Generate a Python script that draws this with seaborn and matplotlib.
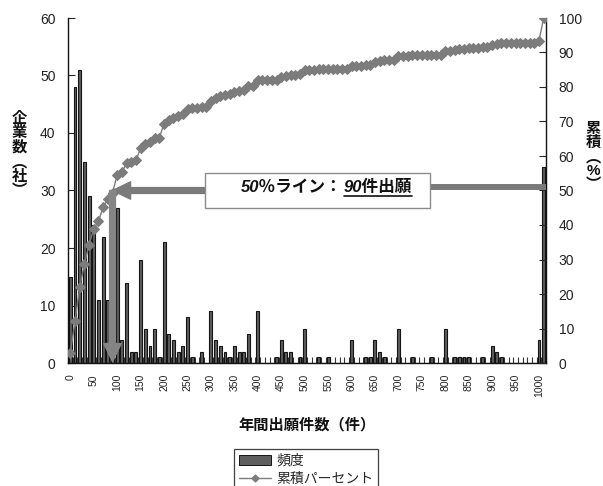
import numpy as np
import pandas as pd
import matplotlib
matplotlib.use("Agg")
import matplotlib.pyplot as plt
import seaborn as sns
from matplotlib.patches import Rectangle, FancyArrowPatch, Patch
from matplotlib.lines import Line2D

# Histogram bins (upper bounds, step 10) plus the overflow class
bin_labels = [str(v) for v in range(0, 1001, 10)] + ["次の級"]

# Number of companies per bin of yearly applications
frequency = [
    15, 48, 51, 35, 29, 24, 11, 22, 11, 10,   # 0-90
    27, 4, 14, 2, 2, 18, 6, 3, 6, 1,          # 100-190
    21, 5, 4, 2, 3, 8, 1, 0, 2, 0,            # 200-290
    9, 4, 3, 2, 1, 3, 2, 2, 5, 0,             # 300-390
    9, 0, 0, 0, 1, 4, 2, 2, 0, 1,             # 400-490
    6, 0, 0, 1, 0, 1, 0, 0, 0, 0,             # 500-590
    4, 0, 0, 1, 1, 4, 2, 1, 0, 0,             # 600-690
    6, 0, 0, 1, 0, 0, 0, 1, 0, 0,             # 700-790
    6, 0, 1, 1, 1, 1, 0, 0, 1, 0,             # 800-890
    3, 2, 1, 0, 0, 0, 0, 0, 0, 0,             # 900-990
    4, 34,                                    # 1000, overflow
]

left_ticks = [0, 10, 20, 30, 40, 50, 60]
right_ticks = [0, 10, 20, 30, 40, 50, 60, 70, 80, 90, 100]

half_level = 50          # the 50 % reference line
half_bin = "90"          # bin where the cumulative share reaches 50 %

freq = np.array(frequency, dtype=float)
cum_pct = np.cumsum(freq) / freq.sum() * 100
pos = np.arange(len(bin_labels))
df = pd.DataFrame({"bin": bin_labels, "freq": freq, "pos": pos, "cum": cum_pct})

sns.set_style("white")
plt.rcParams["font.family"] = ["Liberation Sans", "Noto Sans CJK JP"]
plt.rcParams["axes.unicode_minus"] = False

W, H = 603, 486
fig = plt.figure(figsize=(W / 100, H / 100), dpi=100)
rect = [68 / W, 1 - 363 / H, 478 / W, 345 / H]
ax = fig.add_axes(rect)

sns.barplot(data=df, x="pos", y="freq", ax=ax, order=list(pos), color="#5e5e5e",
            edgecolor="#141414", linewidth=0.8, width=0.62, saturation=1)

n = len(bin_labels)
ax.set_xlim(-0.5, n - 0.5)
ax.set_ylim(0, 60)
ax.set_xlabel("年間出願件数（件）", fontsize=11, fontweight="bold", labelpad=15,
              color="#111111")
ax.set_ylabel("")
ax.set_xticks(pos[:101:5])
ax.set_xticklabels(bin_labels[:101:5], rotation=90, fontsize=7.5, color="#222222")
ax.set_xticks(np.arange(-0.5, n, 1), minor=True)
ax.tick_params(axis="x", which="major", length=0, pad=8)
ax.tick_params(axis="x", which="minor", direction="in", length=4, width=0.8,
               color="#333333", bottom=True)
ax.set_yticks(left_ticks)
ax.set_yticklabels([str(t) for t in left_ticks], fontsize=10, color="#222222")
ax.tick_params(axis="y", direction="in", length=5, width=0.8, pad=9, left=True)
for s in ["left", "bottom", "right"]:
    ax.spines[s].set_visible(True)
    ax.spines[s].set_color("#111111")
    ax.spines[s].set_linewidth(1.0)
ax.spines["top"].set_visible(False)

# Cumulative percentage on its own right-hand scale
ax2 = fig.add_axes(rect, frameon=False)
sns.lineplot(data=df, x="pos", y="cum", ax=ax2, color="#7c7c7c", linewidth=1.0,
             marker="D", markersize=5, markeredgecolor="#7c7c7c", zorder=4)
ax2.set_xlim(-0.5, n - 0.5)
ax2.set_ylim(0, 100)
ax2.xaxis.set_visible(False)
ax2.yaxis.tick_right()
ax2.set_ylabel("")
ax2.set_yticks(right_ticks)
ax2.set_yticklabels([str(t) for t in right_ticks], fontsize=10, color="#222222")
ax2.tick_params(axis="y", direction="in", length=5, width=0.8, pad=9, right=True,
                left=False)

# 50 % annotation
hx = bin_labels.index(half_bin)
box_x0, box_x1 = 28.7, 76.8
box_y0, box_y1 = 44.9, 55.1
arrow_grey = "#7a7a7a"
ax2.add_patch(Rectangle((box_x0, box_y0), box_x1 - box_x0, box_y1 - box_y0,
                        facecolor="white", edgecolor="#8c8c8c", linewidth=1.0,
                        zorder=6))
style = "simple,head_length=1.3,head_width=1.25,tail_width=0.42"
ax2.add_patch(FancyArrowPatch((box_x0, half_level), (hx, half_level),
                              arrowstyle=style, mutation_scale=10,
                              color=arrow_grey, shrinkA=0, shrinkB=0, zorder=5))
ax2.add_patch(FancyArrowPatch((hx, half_level), (hx, 0.4),
                              arrowstyle=style, mutation_scale=10,
                              color="#858585", shrinkA=0, shrinkB=0, zorder=5))
ax2.plot([box_x1, n - 0.5], [half_level + 1, half_level + 1], color=arrow_grey,
         linewidth=4.3, solid_capstyle="butt", zorder=5)

split_x = 58.0
t1 = ax2.text(split_x, half_level + 0.8, "50％ライン：", ha="right", va="center",
              fontsize=12, fontweight="bold", fontstyle="italic",
              color="#111111", zorder=7)
t2 = ax2.text(split_x + 0.3, half_level + 0.8, "90件出願", ha="left", va="center",
              fontsize=12, fontweight="bold", fontstyle="italic",
              color="#111111", zorder=7)

# Axis titles written vertically
fig.text(19 / W, 1 - 155 / H, "企\n業\n数\n︵\n社\n︶", ha="center", va="center",
         fontsize=11, fontweight="bold", linespacing=1.02, color="#111111")
fig.text(593 / W, 1 - 157 / H, "累\n積\n︵\n%\n︶", ha="center", va="center",
         fontsize=11, fontweight="bold", linespacing=1.02, color="#111111")

handles = [Patch(facecolor="#5e5e5e", edgecolor="#141414", linewidth=0.7),
           Line2D([], [], color="#7c7c7c", linewidth=1.0, marker="D", markersize=3.5)]
leg = fig.legend(handles, ["頻度", "累積パーセント"], loc="upper center",
                 bbox_to_anchor=(306 / W, 1 - 449 / H), frameon=True,
                 fancybox=False, edgecolor="#111111", fontsize=10,
                 handlelength=2.3, handletextpad=0.4, borderpad=0.35,
                 labelspacing=0.3, borderaxespad=0)
leg.get_frame().set_linewidth(0.9)

# Underline under the bin count
fig.canvas.draw()
bb = t2.get_window_extent()
inv = fig.transFigure.inverted()
(ux0, uy), (ux1, _) = inv.transform([(bb.x0, bb.y0 - 1), (bb.x1, bb.y0 - 1)])
fig.add_artist(Line2D([ux0, ux1], [uy, uy], transform=fig.transFigure,
                      color="#111111", linewidth=1.2, zorder=8))

fig.savefig("out.png", dpi=100)
